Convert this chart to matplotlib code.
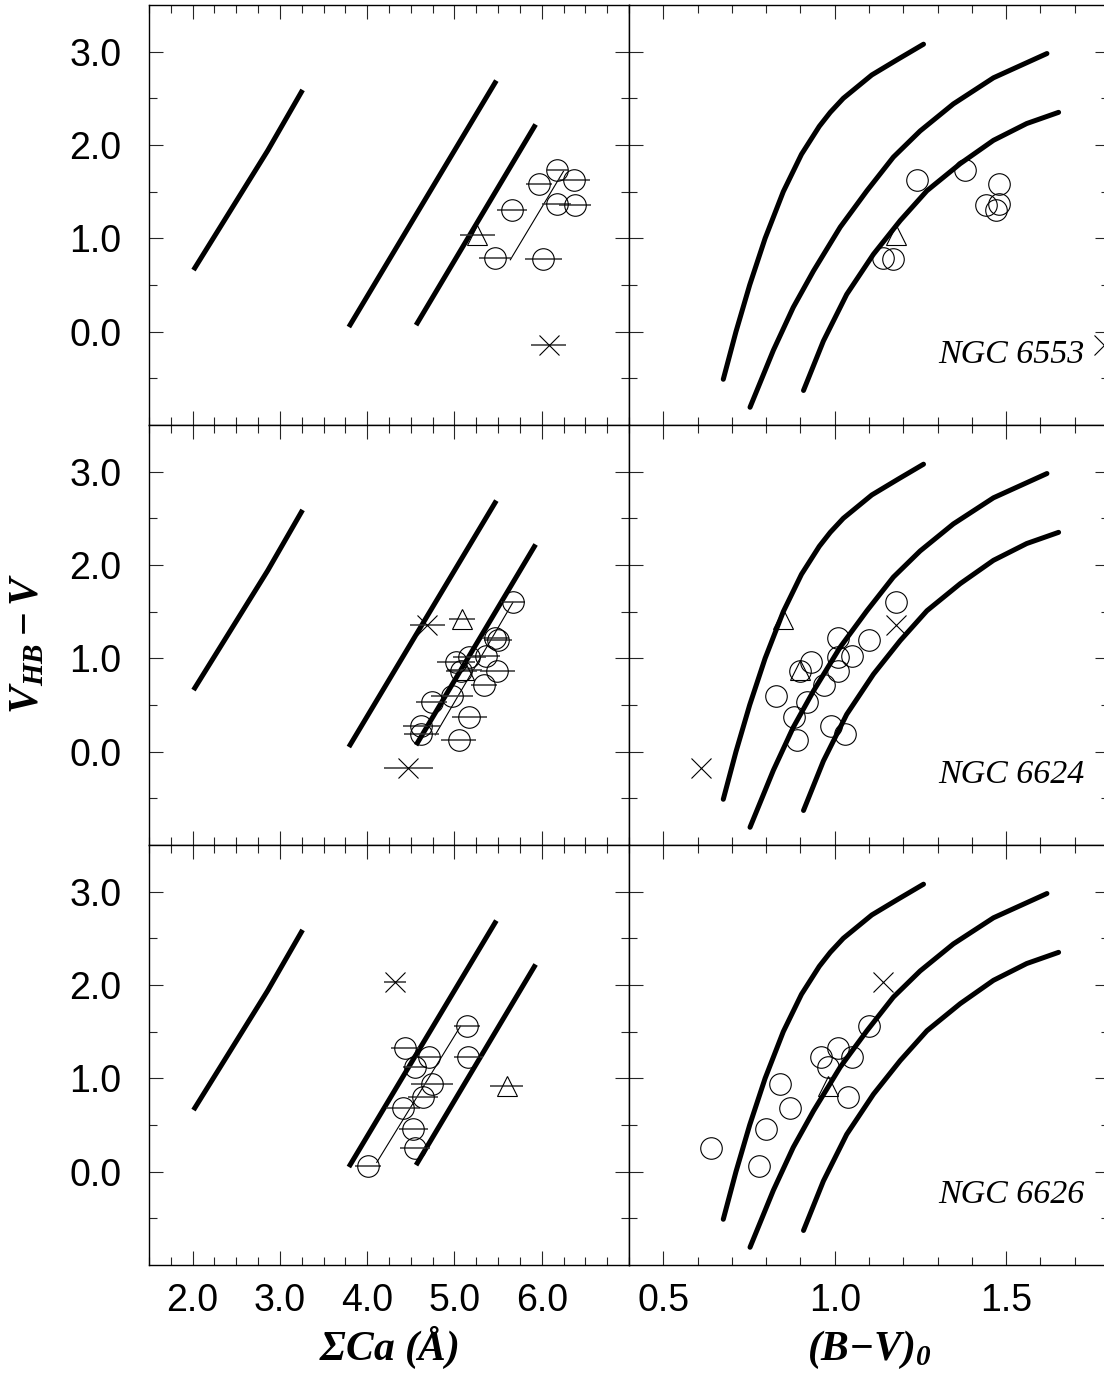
import matplotlib
matplotlib.use("Agg")
import matplotlib.pyplot as plt
from matplotlib.ticker import FixedLocator, MultipleLocator, FormatStrFormatter

plt.rcParams['font.family'] = ['Liberation Sans', 'DejaVu Sans']
plt.rcParams['mathtext.fontset'] = 'custom'
plt.rcParams['mathtext.rm'] = 'Liberation Serif'
plt.rcParams['mathtext.it'] = 'Liberation Serif:italic'
plt.rcParams['mathtext.bf'] = 'Liberation Serif:italic:bold'

# --- calibration lines, SigmaCa vs V_HB - V (same in every left panel)
ca_line1_x = [2.01, 2.86, 3.26]
ca_line1_y = [0.66, 1.94, 2.59]
ca_line2_x = [3.79, 5.48]
ca_line2_y = [0.05, 2.69]
ca_line3_x = [4.56, 5.93]
ca_line3_y = [0.07, 2.22]

# --- RGB loci, (B-V)0 vs V_HB - V (same in every right panel)
bv_curve1_x = [0.675, 0.712, 0.752, 0.797, 0.850, 0.903, 0.955, 0.987, 1.025, 1.108, 1.185, 1.259]
bv_curve1_y = [-0.51, 0.00, 0.50, 1.00, 1.50, 1.90, 2.20, 2.35, 2.50, 2.75, 2.92, 3.08]
bv_curve2_x = [0.753, 0.821, 0.879, 0.938, 1.016, 1.094, 1.171, 1.249, 1.346, 1.463, 1.619]
bv_curve2_y = [-0.81, -0.20, 0.26, 0.65, 1.12, 1.51, 1.87, 2.15, 2.44, 2.72, 2.98]
bv_curve3_x = [0.909, 0.967, 1.035, 1.113, 1.191, 1.269, 1.366, 1.463, 1.560, 1.653]
bv_curve3_y = [-0.63, -0.10, 0.40, 0.83, 1.19, 1.51, 1.80, 2.05, 2.23, 2.35]

# --- NGC 6553
v_6553 = [1.73, 1.63, 1.58, 1.37, 1.36, 1.30, 0.785, 0.78]
ca_6553 = [6.18, 6.37, 5.97, 6.17, 6.38, 5.66, 5.47, 6.02]
caerr_6553 = [0.12, 0.18, 0.15, 0.17, 0.18, 0.17, 0.19, 0.21]
bv_6553 = [1.38, 1.24, 1.48, 1.48, 1.44, 1.47, 1.14, 1.17]
tri_v_6553 = [1.04]
tri_ca_6553 = [5.26]
tri_caerr_6553 = [0.20]
tri_bv_6553 = [1.18]
x_v_6553 = [-0.14]
x_ca_6553 = [6.08]
x_caerr_6553 = [0.20]
x_bv_6553 = [1.784]
fit_ca_6553 = [5.64, 6.25]
fit_v_6553 = [0.77, 1.72]

# --- NGC 6624
v_6624 = [1.60, 1.22, 1.20, 1.02, 1.01, 0.96, 0.86, 0.865, 0.71, 0.60, 0.53, 0.37, 0.27, 0.19, 0.13]
ca_6624 = [5.67, 5.47, 5.50, 5.36, 5.17, 5.02, 5.49, 5.08, 5.34, 4.97, 4.74, 5.17, 4.62, 4.62, 5.05]
caerr_6624 = [0.14, 0.16, 0.16, 0.16, 0.19, 0.22, 0.20, 0.18, 0.15, 0.24, 0.18, 0.20, 0.21, 0.20, 0.20]
bv_6624 = [1.18, 1.01, 1.10, 1.05, 1.01, 0.93, 0.90, 1.01, 0.97, 0.83, 0.92, 0.88, 0.99, 1.03, 0.89]
tri_v_6624 = [1.42, 0.87]
tri_ca_6624 = [5.09, 5.11]
tri_caerr_6624 = [0.15, 0.20]
tri_bv_6624 = [0.85, 0.90]
x_v_6624 = [1.36, -0.175]
x_ca_6624 = [4.69, 4.47]
x_caerr_6624 = [0.20, 0.28]
x_bv_6624 = [1.18, 0.61]
fit_ca_6624 = [4.78, 5.67]
fit_v_6624 = [0.18, 1.60]

# --- NGC 6626
v_6626 = [1.56, 1.325, 1.23, 1.225, 1.125, 0.94, 0.80, 0.68, 0.457, 0.254, 0.057]
ca_6626 = [5.14, 4.43, 4.71, 5.16, 4.55, 4.74, 4.64, 4.41, 4.53, 4.55, 4.01]
caerr_6626 = [0.15, 0.16, 0.15, 0.17, 0.14, 0.24, 0.17, 0.20, 0.17, 0.17, 0.15]
bv_6626 = [1.10, 1.01, 0.96, 1.05, 0.98, 0.84, 1.04, 0.87, 0.80, 0.64, 0.78]
tri_v_6626 = [0.92]
tri_ca_6626 = [5.60]
tri_caerr_6626 = [0.19]
tri_bv_6626 = [0.98]
x_v_6626 = [2.035]
x_ca_6626 = [4.32]
x_caerr_6626 = [0.13]
x_bv_6626 = [1.14]
fit_ca_6626 = [4.11, 5.07]
fit_v_6626 = [0.10, 1.56]

clusters = [
    ("NGC 6553", v_6553, ca_6553, caerr_6553, bv_6553,
     tri_v_6553, tri_ca_6553, tri_caerr_6553, tri_bv_6553,
     x_v_6553, x_ca_6553, x_caerr_6553, x_bv_6553, fit_ca_6553, fit_v_6553),
    ("NGC 6624", v_6624, ca_6624, caerr_6624, bv_6624,
     tri_v_6624, tri_ca_6624, tri_caerr_6624, tri_bv_6624,
     x_v_6624, x_ca_6624, x_caerr_6624, x_bv_6624, fit_ca_6624, fit_v_6624),
    ("NGC 6626", v_6626, ca_6626, caerr_6626, bv_6626,
     tri_v_6626, tri_ca_6626, tri_caerr_6626, tri_bv_6626,
     x_v_6626, x_ca_6626, x_caerr_6626, x_bv_6626, fit_ca_6626, fit_v_6626),
]

W, H = 1104, 1383
fig = plt.figure(figsize=(W / 100, H / 100), dpi=100)

pw, ph = 480, 420
left_x, right_x = 149, 629
row_tops = [5, 425, 845]

mk = dict(mfc='none', mec='black', mew=0.8, linestyle='none')
ebar = dict(fmt='none', ecolor='0.2', elinewidth=1.1, capsize=0)


def style_axes(ax):
    ax.tick_params(which='both', direction='in', top=True, right=True,
                   labelsize=27, width=0.8, color='0.15')
    ax.tick_params(which='major', length=10)
    ax.tick_params(which='minor', length=5.5)
    ax.tick_params(axis='y', pad=20)
    ax.tick_params(axis='x', pad=13)
    for s in ax.spines.values():
        s.set_linewidth(1.0)
    ax.set_ylim(-1.0, 3.5)
    ax.yaxis.set_major_locator(FixedLocator([0, 1, 2, 3]))
    ax.yaxis.set_minor_locator(FixedLocator([-0.5, 0.5, 1.5, 2.5]))
    ax.yaxis.set_major_formatter(FormatStrFormatter('%.1f'))


for i, (name, v, ca, caerr, bv, tv, tca, tcaerr, tbv,
        xv, xca, xcaerr, xbv, fca, fv) in enumerate(clusters):
    bottom = (H - row_tops[i] - ph) / H
    ax1 = fig.add_axes([left_x / W, bottom, pw / W, ph / H])
    ax2 = fig.add_axes([right_x / W, bottom, pw / W, ph / H])

    # left: SigmaCa
    for lx, ly in [(ca_line1_x, ca_line1_y), (ca_line2_x, ca_line2_y), (ca_line3_x, ca_line3_y)]:
        ax1.plot(lx, ly, color='black', lw=3.6, solid_capstyle='butt')
    ax1.plot(fca, fv, color='black', lw=0.8)
    ax1.errorbar(ca, v, xerr=caerr, **ebar)
    ax1.errorbar(tca, tv, xerr=tcaerr, **ebar)
    ax1.errorbar(xca, xv, xerr=xcaerr, **ebar)
    ax1.plot(ca, v, marker='o', ms=15.5, **mk)
    ax1.plot(tca, tv, marker='^', ms=15, **mk)
    ax1.plot(xca, xv, marker='x', ms=14, **mk)
    style_axes(ax1)
    ax1.set_xlim(1.5, 7.0)
    ax1.xaxis.set_major_locator(FixedLocator([2, 3, 4, 5, 6]))
    ax1.xaxis.set_minor_locator(MultipleLocator(0.25))
    ax1.xaxis.set_major_formatter(FormatStrFormatter('%.1f'))

    # right: (B-V)0
    for lx, ly in [(bv_curve1_x, bv_curve1_y), (bv_curve2_x, bv_curve2_y), (bv_curve3_x, bv_curve3_y)]:
        ax2.plot(lx, ly, color='black', lw=3.6, solid_capstyle='round',
                 solid_joinstyle='round')
    ax2.plot(bv, v, marker='o', ms=15.5, **mk)
    ax2.plot(tbv, tv, marker='^', ms=15, **mk)
    ax2.plot(xbv, xv, marker='x', ms=14, **mk)
    style_axes(ax2)
    ax2.set_xlim(0.4, 1.8)
    ax2.xaxis.set_major_locator(FixedLocator([0.5, 1.0, 1.5]))
    ax2.xaxis.set_minor_locator(MultipleLocator(0.1))
    ax2.xaxis.set_major_formatter(FormatStrFormatter('%.1f'))
    ax2.tick_params(labelleft=False)
    ax2.text(0.95, 0.148, name, transform=ax2.transAxes, ha='right', va='baseline',
             family='Liberation Serif', style='italic', fontsize=24.5)

    if i < 2:
        ax1.tick_params(labelbottom=False)
        ax2.tick_params(labelbottom=False)

fig.text(27 / W, 1 - 644 / H, r'$\mathbf{V_{HB}-V}$', rotation=90,
         ha='center', va='center', fontsize=30)
fig.text(389 / W, 1 - 1347 / H, r'$\mathbf{\Sigma Ca\ (Å)}$',
         ha='center', va='center', fontsize=30)
fig.text(869 / W, 1 - 1350 / H, r'$\mathbf{(B{-}V)_0}$',
         ha='center', va='center', fontsize=30)

fig.savefig('out.png', dpi=100)
